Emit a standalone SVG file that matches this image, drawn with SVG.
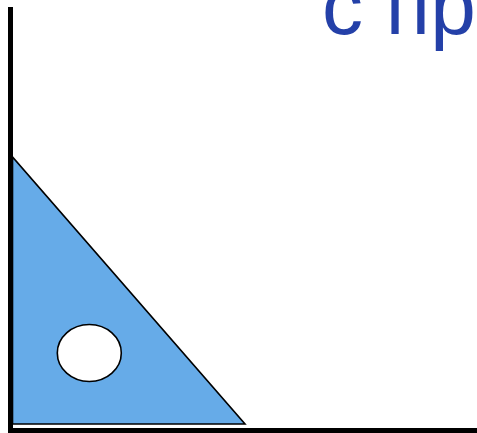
<svg xmlns="http://www.w3.org/2000/svg" width="477" height="433" viewBox="0 0 477 433">
<style>
.axis{stroke:#000;stroke-width:5;fill:none}
.shape{stroke:#000;stroke-width:1.6}
.title{font-family:"Liberation Sans",Arial,sans-serif;font-size:82px;fill:#2440A8}
</style>
<rect width="477" height="433" fill="#fff"/>
<g id="axes">
<line class="axis" x1="10.5" y1="7" x2="10.5" y2="431"/>
<line class="axis" x1="8" y1="430.5" x2="477" y2="430.5"/>
</g>
<g id="triangle">
<polygon class="shape" fill="#66ABE8" points="12.5,157 12.5,424 245,424"/>
</g>
<g id="hole">
<ellipse class="shape" fill="#fff" cx="89.3" cy="353" rx="32" ry="28.5"/>
</g>
<g id="title">
<text class="title" x="322" y="34">с пр</text>
</g>
</svg>
